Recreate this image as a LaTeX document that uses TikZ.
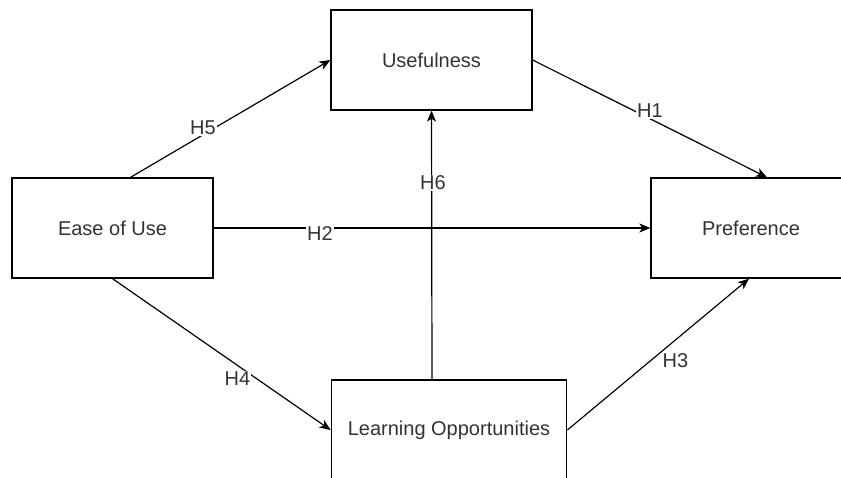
\documentclass[tikz,border=0pt]{standalone}
\usepackage{fontspec}
\setmainfont{Liberation Sans}
\usetikzlibrary{arrows.meta}
\begin{document}
\begin{tikzpicture}[x=1pt,y=-1pt,
  box/.style={draw=black, line width=1.3pt, fill=white, text=black!80, font=\fontsize{20}{24}\selectfont, inner sep=0pt},
  conn/.style={draw=black, line width=1.2pt, -{Stealth[length=11pt,width=9pt,inset=3pt]}},
  lbl/.style={fill=white, text=black!80, font=\fontsize{20}{24}\selectfont, inner sep=1pt}]
\useasboundingbox (0,0) rectangle (841,478);
\clip (0,0) rectangle (841,478);
\fill[white] (0,0) rectangle (841,478);
\node[box, minimum width=201pt, minimum height=100pt] (use) at (431.5,60) {Usefulness};
\node[box, minimum width=201pt, minimum height=100pt] (ease) at (112.5,228) {Ease of Use};
\node[box, minimum width=200pt, minimum height=100pt] (pref) at (751,228) {Preference};
\node[box, minimum width=235.5pt, minimum height=100pt] (learn) at (449,430) {Learning Opportunities};
\draw[conn] ([xshift=18pt]ease.north) -- (use.west);
\draw[conn] (use.east) -- ([xshift=16pt]pref.north);
\draw[conn] (ease.east) -- (pref.west);
\draw[conn] (learn.east) -- ([xshift=-2pt]pref.south);
\draw[conn] (ease.south) -- (learn.west);
\draw[conn] ([xshift=-17pt]learn.north) -- (use.south);
\node[lbl] (h5) at (203,128) {H5};
\node[lbl] (h1) at (650,111) {H1};
\node[lbl] (h2) at (320,234) {H2};
\node[lbl] (h3) at (675.5,361) {H3};
\node[lbl] (h4) at (237.5,379) {H4};
\node[lbl] (h6) at (433,183) {H6};
\end{tikzpicture}
\end{document}
